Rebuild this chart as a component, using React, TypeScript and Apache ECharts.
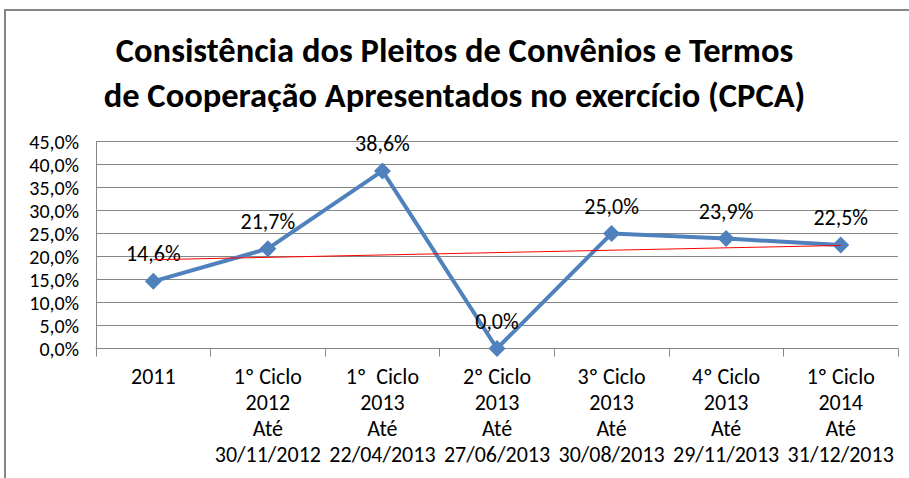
import React, { useEffect, useRef } from "react";
import * as echarts from "echarts";

const categories = [
  "2011",
  "1º Ciclo\n2012\nAté\n30/11/2012",
  "1º  Ciclo\n2013\nAté\n22/04/2013",
  "2º Ciclo\n2013\nAté\n27/06/2013",
  "3º Ciclo\n2013\nAté\n30/08/2013",
  "4º Ciclo\n2013\nAté\n29/11/2013",
  "1º Ciclo\n2014\nAté\n31/12/2013",
];
const values = [14.6, 21.7, 38.6, 0.0, 25.0, 23.9, 22.5];
// trend line (first and last category)
const trendValues = [19.3, null, null, null, null, null, 22.4];

const titleText =
  "Consistência dos Pleitos de Convênios e Termos\nde Cooperação Apresentados no exercício (CPCA)";

const FONT = "Carlito, 'Liberation Sans Narrow', 'Open Sans', sans-serif";

const fmt = (v: number) => v.toFixed(1).replace(".", ",") + "%";

export default function App() {
  const ref = useRef<HTMLDivElement>(null);
  useEffect(() => {
    if (!ref.current) return;
    const chart = echarts.init(ref.current, undefined, { renderer: "svg" });
    chart.setOption({
      animation: false,
      backgroundColor: "#ffffff",
      graphic: [
        {
          type: "rect",
          shape: { x: 5, y: 10, width: 920, height: 480 },
          style: { fill: "none", stroke: "#868686", lineWidth: 2 },
          silent: true,
        },
      ],
      title: {
        text: titleText,
        left: "center",
        top: 22,
        textStyle: {
          fontFamily: FONT,
          fontSize: 34.5,
          fontWeight: "bold",
          color: "#000",
          lineHeight: 45,
        },
      },
      grid: { left: 96, right: 11, top: 141.5, bottom: 129.5, containLabel: false },
      xAxis: {
        type: "category",
        data: categories,
        boundaryGap: true,
        axisLine: { lineStyle: { color: "#868686", width: 1 } },
        axisTick: { show: true, length: 8, lineStyle: { color: "#868686" } },
        axisLabel: {
          interval: 0,
          fontFamily: FONT,
          fontSize: 22,
          lineHeight: 26,
          color: "#000",
          margin: 15,
        },
      },
      yAxis: {
        type: "value",
        min: 0,
        max: 45,
        interval: 5,
        axisLine: { show: true, lineStyle: { color: "#868686" } },
        axisTick: { show: false },
        splitLine: { lineStyle: { color: "#868686", width: 1 } },
        axisLabel: {
          formatter: (v: number) => fmt(v),
          fontFamily: FONT,
          fontSize: 20,
          lineHeight: 20,
          color: "#000",
          margin: 17,
        },
      },
      series: [
        {
          type: "line",
          data: values,
          symbol: "diamond",
          symbolSize: 17,
          lineStyle: { color: "#4F81BD", width: 4 },
          itemStyle: { color: "#4F81BD" },
          label: {
            show: true,
            position: "top",
            distance: 8,
            formatter: (p: any) => fmt(p.value),
            fontFamily: FONT,
            fontSize: 22,
            color: "#000",
          },
          z: 2,
        },
        {
          type: "line",
          data: trendValues,
          connectNulls: true,
          symbol: "none",
          lineStyle: { color: "#FF0000", width: 1 },
          z: 3,
          silent: true,
        },
      ],
    });
    return () => chart.dispose();
  }, []);
  return (
    <div
      ref={ref}
      style={{ position: "fixed", left: 0, top: 0, width: 909, height: 478 }}
    />
  );
}
